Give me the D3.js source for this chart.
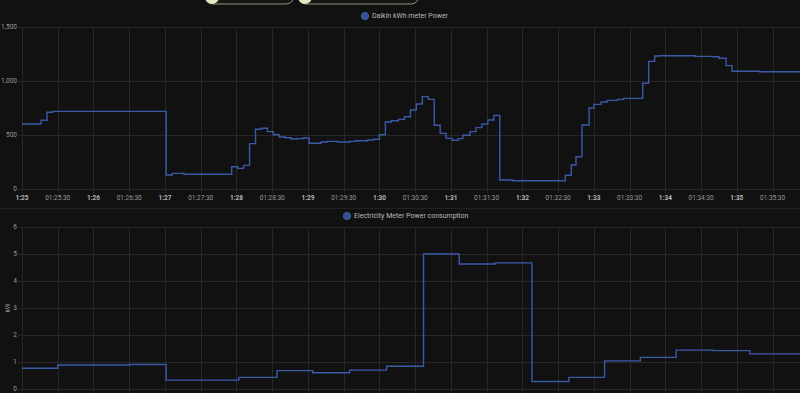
<!DOCTYPE html>
<html><head><meta charset="utf-8">
<script src="https://cdn.jsdelivr.net/npm/d3@7"></script>
<style>
html,body{margin:0;padding:0;background:#111111;overflow:hidden;}
svg{display:block;font-family:Roboto,"Noto Sans",sans-serif;}
</style></head>
<body>
<svg id="chart" width="800" height="393"></svg>
<script>
// ---------- data ----------
const daikinTimes = ["01:25:00","01:25:16","01:25:21","01:25:26","01:27:01","01:27:06","01:27:16",
 "01:27:56","01:28:01","01:28:06","01:28:11","01:28:16","01:28:21","01:28:26","01:28:31","01:28:36",
 "01:28:41","01:28:46","01:28:51","01:28:56","01:29:01","01:29:11","01:29:16","01:29:25","01:29:35",
 "01:29:40","01:29:50","01:29:55","01:30:00","01:30:05","01:30:10","01:30:16","01:30:21","01:30:26",
 "01:30:31","01:30:36","01:30:41","01:30:46","01:30:51","01:30:56","01:31:01","01:31:06","01:31:10",
 "01:31:16","01:31:21","01:31:26","01:31:31","01:31:36","01:31:41","01:31:52","01:32:36","01:32:41",
 "01:32:45","01:32:50","01:32:56","01:33:00","01:33:06","01:33:11","01:33:20","01:33:25","01:33:41",
 "01:33:46","01:33:51","01:33:55","01:34:25","01:34:40","01:34:45","01:34:51","01:34:56","01:35:19","01:35:53"];
const daikinValues = [602,636,710,719,130,145,136,
 206,191,219,420,553,562,531,503,481,
 475,463,466,472,423,435,441,435,441,
 447,454,460,503,620,632,645,669,731,
 787,855,830,590,515,469,451,466,497,
 531,568,602,639,682,83,77,127,222,
 299,593,750,784,806,821,830,839,979,
 1182,1231,1234,1228,1225,1210,1142,1090,1085,1080];

const meterTimes = ["01:25:00","01:25:30","01:26:30","01:27:01","01:28:02","01:28:34","01:29:04",
 "01:29:35","01:30:06","01:30:37","01:31:07","01:31:37","01:32:08","01:32:39","01:33:09","01:33:39",
 "01:34:09","01:34:40","01:35:11","01:35:53"];
const meterValues = [0.77,0.89,0.91,0.33,0.43,0.68,0.60,
 0.70,0.84,5.00,4.63,4.67,0.28,0.43,1.04,1.17,
 1.44,1.42,1.30,1.30];

const xDomain = ["01:25:00","01:35:53"];
const topTicks = [0,500,1000,1500];
const bottomTicks = [0,1,2,3,4,5,6];
const topLegend = "Daikin kWh meter Power";
const bottomLegend = "Electricity Meter Power consumption";
const bottomYTitle = "kW";

// ---------- drawing ----------
const parse = d3.timeParse("%H:%M:%S");
const svg = d3.select("#chart");
const W = 800;
const lineColor = "#3a5aa8";
const gridColor = "#272727";
const labelColor = "#9a9a9a";

const x = d3.scaleTime().domain(xDomain.map(parse)).range([22, 800]);
const xTicks = d3.timeSecond.every(30).range(parse("01:25:00"), parse("01:35:54"));
const fmtMin = d3.timeFormat("%-H:%M");
const fmtSec = d3.timeFormat("%H:%M:%S");

// top pill buttons (cut by top edge)
const pills = [{x0:205,x1:294},{x0:298,x1:419}];
pills.forEach(p=>{
  svg.append("rect").attr("x",p.x0).attr("y",-20).attr("width",p.x1-p.x0).attr("height",24)
    .attr("rx",8).attr("fill","#161616").attr("stroke","#8c917c").attr("stroke-width",1);
  svg.append("circle").attr("cx",p.x0+7).attr("cy",-3).attr("r",7).attr("fill","#dcebbd");
});

// separator
svg.append("line").attr("x1",0).attr("x2",W).attr("y1",208.5).attr("y2",208.5)
  .attr("stroke","#222").attr("stroke-width",1);

function panel(cfg){
  const y = d3.scaleLinear().domain(cfg.yDomain).range([cfg.y0, cfg.y1]);
  const g = svg.append("g");
  // vertical grid
  g.selectAll(".vg").data(xTicks).join("line")
    .attr("x1",d=>Math.round(x(d))+0.5).attr("x2",d=>Math.round(x(d))+0.5)
    .attr("y1",cfg.y1).attr("y2",cfg.y0+4)
    .attr("stroke",gridColor).attr("stroke-width",1);
  // horizontal grid
  g.selectAll(".hg").data(cfg.ticks).join("line")
    .attr("x1",18).attr("x2",W)
    .attr("y1",d=>Math.round(y(d))+0.5).attr("y2",d=>Math.round(y(d))+0.5)
    .attr("stroke",gridColor).attr("stroke-width",1);
  // y labels
  g.selectAll(".yl").data(cfg.ticks).join("text")
    .attr("x",17).attr("y",d=>y(d)+2.2).attr("text-anchor","end")
    .attr("font-size",6.5).attr("fill",labelColor)
    .text(d=>cfg.fmt(d));
  // x labels (only where visible in the window)
  if(cfg.showX){
    g.selectAll(".xl").data(xTicks).join("text")
      .attr("x",d=>x(d)).attr("y",cfg.y0+10.5).attr("text-anchor","middle")
      .attr("font-size",6.5).attr("fill",d=>d.getSeconds()===0?"#b5b5b5":labelColor)
      .attr("font-weight",d=>d.getSeconds()===0?"bold":"normal")
      .text(d=>d.getSeconds()===0?fmtMin(d):fmtSec(d));
  }
  // line
  const data = cfg.times.map((t,i)=>({t:parse(t),v:cfg.values[i]}));
  g.append("path").datum(data)
    .attr("d",d3.line().x(d=>x(d.t)).y(d=>y(d.v)).curve(d3.curveStepAfter))
    .attr("fill","none").attr("stroke",lineColor).attr("stroke-width",1.4);
  // legend
  const lg = svg.append("g");
  lg.append("circle").attr("cx",cfg.legX).attr("cy",cfg.legY).attr("r",3.6)
    .attr("fill","#334f96").attr("stroke","#4a68b8").attr("stroke-width",0.8);
  lg.append("text").attr("x",cfg.legX+7).attr("y",cfg.legY+2.4)
    .attr("font-size",7).attr("fill","#b8b8b8").text(cfg.legend);
  if(cfg.title){
    svg.append("text").attr("transform",`translate(10,${(cfg.y0+cfg.y1)/2}) rotate(-90)`)
      .attr("text-anchor","middle").attr("font-size",6.5).attr("fill",labelColor).text(cfg.title);
  }
}

panel({yDomain:[0,1500], y0:189, y1:27, ticks:topTicks, fmt:d3.format(","), showX:true,
  times:daikinTimes, values:daikinValues, legX:365, legY:16, legend:topLegend});
panel({yDomain:[0,6], y0:389, y1:227, ticks:bottomTicks, fmt:d=>d, showX:false,
  times:meterTimes, values:meterValues, legX:347, legY:216, legend:bottomLegend, title:bottomYTitle});
</script>
</body></html>
